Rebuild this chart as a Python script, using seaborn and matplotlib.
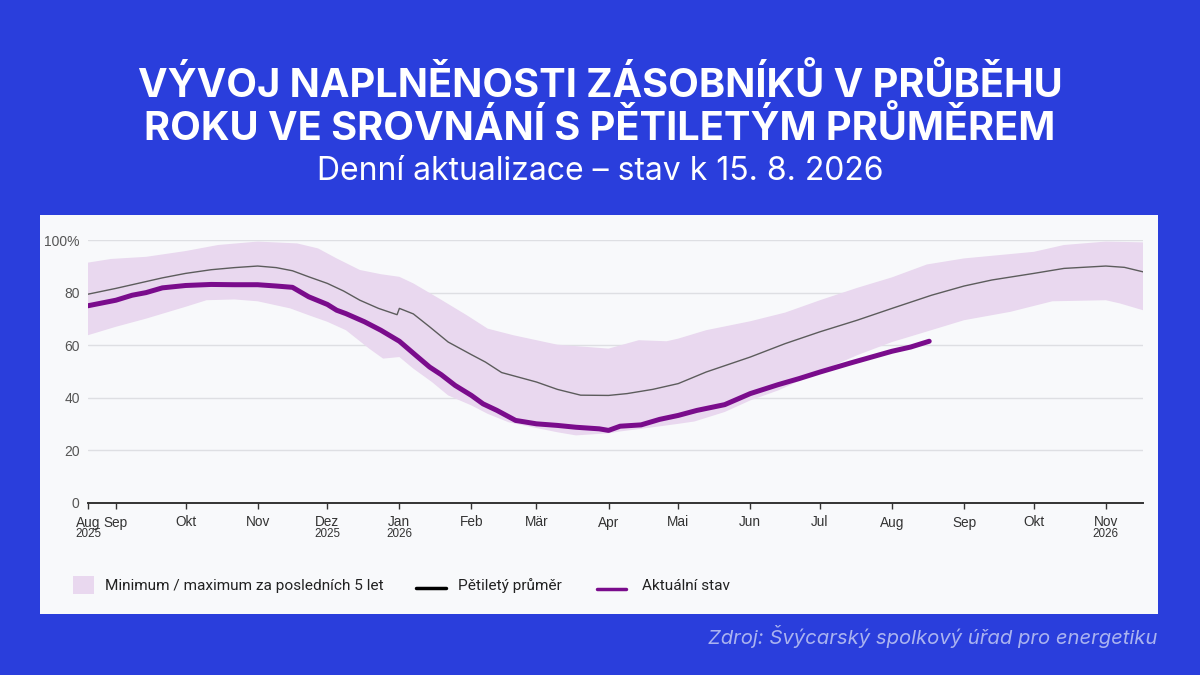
import matplotlib
matplotlib.use('Agg')
import matplotlib.pyplot as plt
import matplotlib.dates as mdates
from matplotlib.patches import Rectangle
from matplotlib.lines import Line2D
import numpy as np
import pandas as pd
import seaborn as sns

# current storage level (%)
current_dates = ['2025-08-20', '2025-09-01', '2025-09-08', '2025-09-14', '2025-09-21', '2025-10-01',
                 '2025-10-12', '2025-10-22', '2025-11-01', '2025-11-09', '2025-11-16', '2025-11-23',
                 '2025-12-01', '2025-12-05', '2025-12-09', '2025-12-17', '2025-12-24', '2026-01-01',
                 '2026-01-08', '2026-01-14', '2026-01-19', '2026-01-25', '2026-02-01', '2026-02-06',
                 '2026-02-12', '2026-02-20', '2026-03-01', '2026-03-10', '2026-03-18', '2026-03-28',
                 '2026-04-01', '2026-04-06', '2026-04-15', '2026-04-23', '2026-05-01', '2026-05-09',
                 '2026-05-21', '2026-06-01', '2026-06-13', '2026-06-22', '2026-07-01', '2026-07-14',
                 '2026-08-01', '2026-08-09', '2026-08-17']
current_vals = [75.0, 77.1, 79.0, 80.0, 81.8, 82.7,
                83.1, 83.0, 83.0, 82.5, 82.0, 78.4,
                75.5, 73.3, 72.0, 68.9, 65.7, 61.5,
                56.2, 51.7, 48.8, 44.7, 40.9, 37.7,
                35.2, 31.4, 30.1, 29.5, 28.8, 28.2,
                27.6, 29.2, 29.7, 31.8, 33.3, 35.2,
                37.4, 41.6, 45.0, 47.3, 49.8, 53.2,
                57.7, 59.3, 61.5]

# five-year average (%)
avg_dates = ['2025-08-20', '2025-09-01', '2025-09-08', '2025-09-21', '2025-10-01', '2025-10-12',
             '2025-10-22', '2025-11-01', '2025-11-09', '2025-11-16', '2025-11-23', '2025-12-01',
             '2025-12-08', '2025-12-15', '2025-12-23', '2025-12-31', '2026-01-01', '2026-01-07',
             '2026-01-14', '2026-01-22', '2026-02-01', '2026-02-07', '2026-02-14', '2026-03-01',
             '2026-03-10', '2026-03-20', '2026-04-01', '2026-04-09', '2026-04-20', '2026-05-01',
             '2026-05-13', '2026-06-01', '2026-06-16', '2026-07-01', '2026-07-17', '2026-08-01',
             '2026-08-18', '2026-09-01', '2026-09-13', '2026-10-01', '2026-10-14', '2026-11-01',
             '2026-11-09', '2026-11-17']
avg_vals = [79.4, 81.6, 83.0, 85.6, 87.3, 88.7,
            89.5, 90.1, 89.5, 88.3, 86.0, 83.5,
            80.6, 77.1, 74.0, 71.6, 74.0, 71.9,
            67.0, 61.2, 56.4, 53.6, 49.6, 46.0,
            43.2, 41.0, 40.9, 41.6, 43.2, 45.4,
            49.8, 55.5, 60.6, 65.1, 69.5, 74.0,
            79.0, 82.5, 84.8, 87.3, 89.2, 90.1,
            89.6, 87.9]

# 5-year maximum (%)
max_dates = ['2025-08-20', '2025-08-30', '2025-09-14', '2025-10-01', '2025-10-15', '2025-11-01',
             '2025-11-18', '2025-11-27', '2025-12-05', '2025-12-15', '2025-12-24', '2026-01-01',
             '2026-01-07', '2026-01-18', '2026-01-30', '2026-02-08', '2026-02-19', '2026-03-01',
             '2026-03-10', '2026-04-01', '2026-04-14', '2026-04-26', '2026-05-01', '2026-05-13',
             '2026-06-01', '2026-06-16', '2026-07-01', '2026-07-17', '2026-08-01', '2026-08-16',
             '2026-09-01', '2026-10-01', '2026-10-14', '2026-11-01', '2026-11-17']
max_vals = [91.4, 92.8, 93.6, 95.8, 98.1, 99.4,
            98.7, 96.8, 93.0, 88.6, 87.0, 86.0,
            83.5, 77.8, 71.4, 66.3, 63.8, 61.9,
            60.2, 58.7, 61.9, 61.5, 62.5, 65.7,
            69.1, 72.4, 77.1, 81.8, 85.8, 90.7,
            93.0, 95.5, 98.1, 99.4, 99.1]

# 5-year minimum (%)
min_dates = ['2025-08-20', '2025-09-01', '2025-09-14', '2025-10-01', '2025-10-10', '2025-10-22',
             '2025-11-01', '2025-11-15', '2025-11-23', '2025-12-01', '2025-12-09', '2025-12-19',
             '2025-12-25', '2026-01-01', '2026-01-07', '2026-01-15', '2026-01-22', '2026-02-01',
             '2026-02-08', '2026-02-17', '2026-03-01', '2026-03-10', '2026-03-18', '2026-04-01',
             '2026-04-06', '2026-04-20', '2026-05-01', '2026-05-08', '2026-05-21', '2026-06-01',
             '2026-06-13', '2026-06-29', '2026-07-17', '2026-08-01', '2026-08-13', '2026-09-01',
             '2026-09-21', '2026-10-09', '2026-11-01', '2026-11-07', '2026-11-17']
min_vals = [63.8, 67.0, 70.1, 74.6, 77.1, 77.4,
            76.7, 74.0, 71.4, 68.9, 65.7, 58.7,
            54.9, 55.5, 51.1, 46.0, 40.9, 37.1,
            33.9, 30.7, 28.5, 26.9, 25.7, 26.5,
            27.2, 28.8, 30.1, 31.0, 34.6, 39.0,
            42.8, 49.2, 56.2, 61.2, 64.4, 69.5,
            72.7, 76.7, 77.1, 75.9, 73.3]

# x-axis ticks
tick_dates = ['2025-08-20', '2025-09-01', '2025-10-01', '2025-11-01', '2025-12-01', '2026-01-01',
              '2026-02-01', '2026-03-01', '2026-04-01', '2026-05-01', '2026-06-01', '2026-07-01',
              '2026-08-01', '2026-09-01', '2026-10-01', '2026-11-01']
tick_labels = ['Aug', 'Sep', 'Okt', 'Nov', 'Dez', 'Jan', 'Feb', 'Mär', 'Apr', 'Mai', 'Jun', 'Jul',
               'Aug', 'Sep', 'Okt', 'Nov']
year_dates = ['2025-08-20', '2025-12-01', '2026-01-01', '2026-11-01']
year_labels = ['2025', '2025', '2026', '2026']

legend_labels = ['Minimum / maximum za posledních 5 let', 'Pětiletý průměr', 'Aktuální stav']

BG = '#2a3edc'
PANEL = '#f8f9fb'
PURPLE = '#7a0c8c'
BAND = '#e9d8ef'
AVG = '#5c5c5c'

W, H = 1200, 675


def fx(px):
    return px / W


def fy(py):
    return (H - py) / H


sns.set_theme(style='white')
plt.rcParams['font.family'] = ['Liberation Sans', 'DejaVu Sans']

fig = plt.figure(figsize=(12, 6.75), dpi=100)
fig.set_facecolor(BG)

# light card behind the chart
fig.patches.append(Rectangle((fx(40), fy(614)), 1118 / W, 399 / H,
                             transform=fig.transFigure, facecolor=PANEL, edgecolor='none', zorder=-5))

ax = fig.add_axes([fx(88), fy(503), 1055 / W, 263 / H])
ax.set_facecolor('none')
ax.set_zorder(2)

df_cur = pd.DataFrame({'date': pd.to_datetime(current_dates), 'val': current_vals})
df_avg = pd.DataFrame({'date': pd.to_datetime(avg_dates), 'val': avg_vals})

band_x = np.concatenate([mdates.date2num(pd.to_datetime(max_dates)),
                         mdates.date2num(pd.to_datetime(min_dates))[::-1]])
band_y = np.concatenate([max_vals, min_vals[::-1]])
ax.fill(band_x, band_y, color=BAND, lw=0, zorder=1)

sns.lineplot(data=df_avg, x='date', y='val', color=AVG, lw=1, ax=ax, zorder=2)
sns.lineplot(data=df_cur, x='date', y='val', color=PURPLE, lw=3.6, ax=ax, zorder=3,
             solid_capstyle='round')

ax.set_xlim(pd.Timestamp('2025-08-20'), pd.Timestamp('2026-11-17'))
ax.set_ylim(0, 100)
ax.set_yticks([0, 20, 40, 60, 80, 100])
ax.set_yticklabels(['0', '20', '40', '60', '80', '100%'])
ax.yaxis.grid(True, color='#dedfe3', lw=1)
ax.set_axisbelow(True)
ax.tick_params(axis='y', length=0, pad=6, labelsize=10, labelcolor='#555555')

ax.set_xticks(pd.to_datetime(tick_dates))
ax.set_xticklabels(tick_labels)
ax.tick_params(axis='x', length=4, width=1, color='#333333', direction='out', pad=5,
               labelsize=9.8, labelcolor='#333333', bottom=True)
for d, lab in zip(year_dates, year_labels):
    ax.text(pd.Timestamp(d), -0.118, lab, transform=ax.get_xaxis_transform(),
            ha='center', va='center', fontsize=8.4, color='#333333')

for s in ['top', 'right', 'left']:
    ax.spines[s].set_visible(False)
ax.spines['bottom'].set_color('#333333')
ax.spines['bottom'].set_linewidth(1.4)
ax.set_xlabel('')
ax.set_ylabel('')

# legend, laid out by hand
fig.patches.append(Rectangle((fx(73), fy(594)), 21 / W, 18 / H, transform=fig.transFigure,
                             facecolor=BAND, edgecolor='none', zorder=3))
fig.lines.append(Line2D([fx(416), fx(446)], [fy(588), fy(588)], transform=fig.transFigure,
                        color='black', lw=2.5))
fig.lines.append(Line2D([fx(597), fx(626)], [fy(589), fy(589)], transform=fig.transFigure,
                        color=PURPLE, lw=2.5))
for px, lab in zip([105, 458, 642], legend_labels):
    fig.text(fx(px), fy(586), lab, ha='left', va='center', fontsize=11.1, color='#222222',
             family='Roboto')

fig.text(0.5, fy(85), 'VÝVOJ NAPLNĚNOSTI ZÁSOBNÍKŮ V PRŮBĚHU', ha='center', va='center',
         color='white', fontsize=28.6, fontweight='bold', family='Inter')
fig.text(0.5, fy(128), 'ROKU VE SROVNÁNÍ S PĚTILETÝM PRŮMĚREM', ha='center', va='center',
         color='white', fontsize=28.6, fontweight='bold', family='Inter')
fig.text(0.5, fy(172), 'Denní aktualizace – stav k 15. 8. 2026', ha='center', va='center',
         color='white', fontsize=23, family='Inter')
fig.text(fx(1157), fy(637), 'Zdroj: Švýcarský spolkový úřad pro energetiku',
         ha='right', va='center', color='#aab3f0', fontsize=14.6, style='italic', family='Inter')

fig.savefig('out.png', dpi=100, facecolor=BG)
